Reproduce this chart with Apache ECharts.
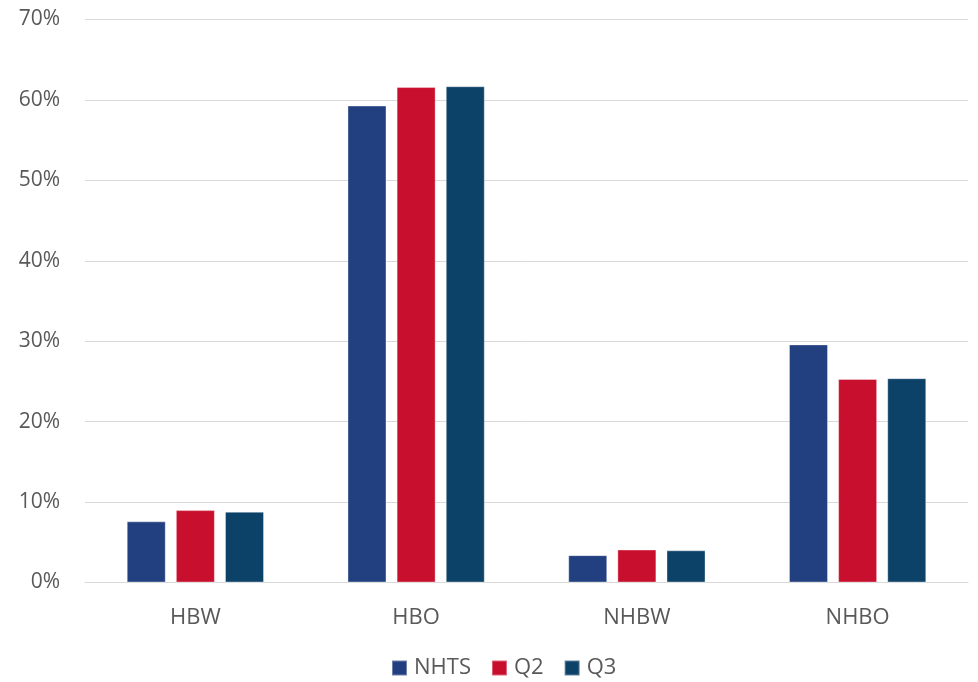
<!DOCTYPE html>
<html>
<head>
<meta charset="utf-8">
<script src="https://cdn.jsdelivr.net/npm/echarts@6/dist/echarts.min.js"></script>
<style>
  html, body { margin: 0; padding: 0; background: #ffffff; }
  #chart { width: 978px; height: 682px; }
</style>
</head>
<body>
<div id="chart"></div>
<script>
// Trip purpose shares by source
const categories = ['HBW', 'HBO', 'NHBW', 'NHBO'];
const nhts = [7.6, 59.3, 3.4, 29.6];
const q2 = [9.0, 61.6, 4.1, 25.3];
const q3 = [8.8, 61.7, 4.0, 25.4];
const seriesNames = ['NHTS', 'Q2', 'Q3'];
const seriesColors = ['#22407f', '#c8102e', '#0d4268'];

const textColor = '#595959';
const fontFamily = '"Open Sans", "Liberation Sans", sans-serif';

const chart = echarts.init(document.getElementById('chart'), null, { renderer: 'canvas' });

function barSeries(name, data, color) {
  return {
    name: name,
    type: 'bar',
    data: data,
    barWidth: 39,
    barGap: '26%',
    itemStyle: { color: color, borderColor: 'rgba(255,255,255,0.35)', borderWidth: 1 }
  };
}

chart.setOption({
  animation: false,
  grid: { left: 85, right: 10, top: 19.5, bottom: 99.5, containLabel: false },
  legend: {
    data: seriesNames,
    left: 391,
    top: 657,
    padding: 0,
    itemWidth: 15,
    itemHeight: 15,
    itemGap: 20,
    icon: 'rect',
    textStyle: { color: textColor, fontSize: 22, fontFamily: fontFamily, padding: [0, 0, 0, 2] }
  },
  xAxis: {
    type: 'category',
    data: categories,
    axisLine: { lineStyle: { color: '#d9d9d9', width: 1 } },
    axisTick: { show: false },
    axisLabel: { color: textColor, fontSize: 22, fontFamily: fontFamily, margin: 24 }
  },
  yAxis: {
    type: 'value',
    min: 0,
    max: 70,
    interval: 10,
    axisLine: { show: false },
    axisTick: { show: false },
    splitLine: { lineStyle: { color: '#d9d9d9', width: 1 } },
    axisLabel: {
      color: textColor, fontSize: 21, fontFamily: fontFamily, margin: 25,
      formatter: v => v + '%'
    }
  },
  series: [
    barSeries(seriesNames[0], nhts, seriesColors[0]),
    barSeries(seriesNames[1], q2, seriesColors[1]),
    barSeries(seriesNames[2], q3, seriesColors[2])
  ]
});
</script>
</body>
</html>
